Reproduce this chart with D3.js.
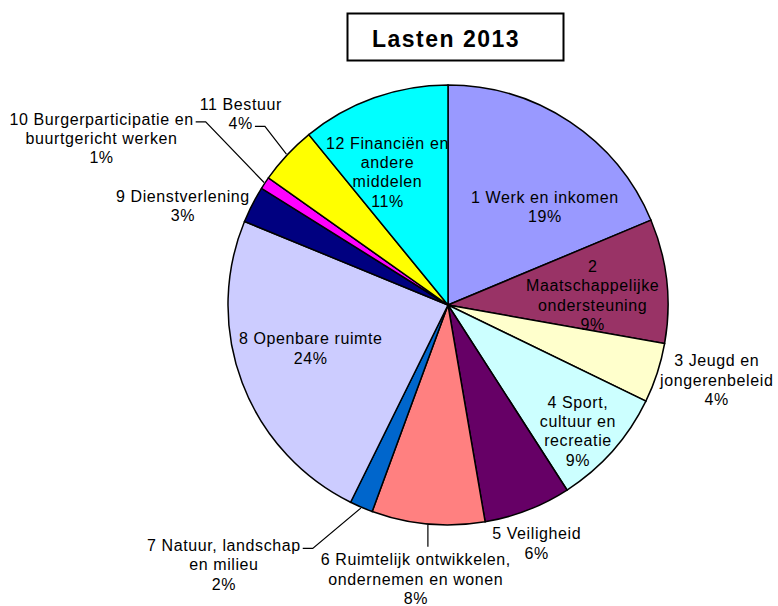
<!DOCTYPE html>
<meta charset="utf-8">
<style>
body { margin: 0; background: #fff; }
text { font-family: "Liberation Sans", Arial, sans-serif; fill: #000; }
.lbl { font-size: 16px; letter-spacing: 0.6px; }
.title { font-size: 23px; font-weight: bold; letter-spacing: 1.5px; }
.slice { stroke: #000; stroke-width: 1.5px; }
.leader { fill: none; stroke: #000; stroke-width: 1.2px; }
</style>
<body>
<script src="https://d3js.org/d3.v7.min.js"></script>
<script>

// chart size and pie geometry
var width = 778, height = 606;
var cx = 448, cy = 305, radius = 220;

// the data: share of the 2013 budget per programme (%)
var values = [18.7, 9.1, 4.4, 8.7, 6.4, 8.3, 1.7, 23.9, 2.7, 0.9, 4.3, 10.9];

// label text for each slice (percentage is added below)
var labelLines = [
  ["1 Werk en inkomen"],
  ["2", "Maatschappelijke", "ondersteuning"],
  ["3 Jeugd en", "jongerenbeleid"],
  ["4 Sport,", "cultuur en", "recreatie"],
  ["5 Veiligheid"],
  ["6 Ruimtelijk ontwikkelen,", "ondernemen en wonen"],
  ["7 Natuur, landschap", "en milieu"],
  ["8 Openbare ruimte"],
  ["9 Dienstverlening"],
  ["10 Burgerparticipatie en", "buurtgericht werken"],
  ["11 Bestuur"],
  ["12 Financiën en", "andere", "middelen"]
];

var colors = ["#9999ff", "#993366", "#ffffcc", "#ccffff", "#660066", "#ff8080",
              "#0066cc", "#ccccff", "#000080", "#ff00ff", "#ffff00", "#00ffff"];

// where each label block sits: [angle in degrees from 12 o'clock, distance from centre]
var labelPolar = [
  [44.6, 138], [86.2, 145], [105.6, 279], [134.1, 181], [159.6, 254.5], [186.7, 276],
  [220.8, 343], [252.4, 144], [290.5, 283], [295.7, 384.5], [312.7, 282], [335.5, 146]
];

// leader lines: slice index and which label line they attach to
var leaders = [
  {i: 5, line: "top"},
  {i: 6, line: 0},
  {i: 9, line: 0},
  {i: 10, line: 1}
];

var lineHeight = 19.3;
var total = d3.sum(values);
var pct = function(v) { return d3.format(".0f")(v / total * 100) + "%"; };

var svg = d3.select("body").append("svg")
    .attr("width", width)
    .attr("height", height);

// title box
svg.append("rect")
    .attr("x", 347.5).attr("y", 13.5)
    .attr("width", 216).attr("height", 47)
    .attr("fill", "#fff")
    .attr("stroke", "#000")
    .attr("stroke-width", 2);
svg.append("text")
    .attr("class", "title")
    .attr("x", 446).attr("y", 47)
    .attr("text-anchor", "middle")
    .text("Lasten 2013");

var pie = d3.pie().sort(null).value(function(d) { return d; });
var arcs = pie(values);
var arc = d3.arc().innerRadius(0).outerRadius(radius);

var g = svg.append("g")
    .attr("transform", "translate(" + cx + "," + cy + ")");

g.selectAll("path.slice")
    .data(arcs)
  .enter().append("path")
    .attr("class", "slice")
    .attr("fill", function(d, i) { return colors[i]; })
    .attr("d", arc);

function polar(angleDeg, r) {
  var a = angleDeg * Math.PI / 180;
  return [r * Math.sin(a), -r * Math.cos(a)];
}

// labels
var labelNodes = [];
arcs.forEach(function(d, i) {
  var lines = labelLines[i].concat([pct(values[i])]);
  var p = polar(labelPolar[i][0], labelPolar[i][1]);
  var n = lines.length;
  var t = g.append("text")
      .attr("class", "lbl")
      .attr("text-anchor", "middle");
  var spans = [];
  lines.forEach(function(s, k) {
    spans.push(t.append("tspan")
        .attr("x", p[0])
        .attr("y", p[1] + (k - (n - 1) / 2) * lineHeight)
        .attr("dy", "0.35em")
        .text(s));
  });
  labelNodes.push({pos: p, spans: spans, n: n});
});

// leader lines from slice edge to label
leaders.forEach(function(L) {
  var d = arcs[L.i];
  var mid = (d.startAngle + d.endAngle) / 2 * 180 / Math.PI;
  var start = polar(mid, radius + 1);
  var lab = labelNodes[L.i];
  var pts;
  if (L.line === "top") {
    var topY = lab.pos[1] - (lab.n - 1) / 2 * lineHeight - 13;
    pts = [start, [start[0], topY]];
  } else {
    var span = lab.spans[L.line];
    var w = span.node().getComputedTextLength();
    var ly = lab.pos[1] + (L.line - (lab.n - 1) / 2) * lineHeight + 3;
    var x0 = lab.pos[0] + w / 2 + 2;
    pts = [start, [x0 + 10, ly], [x0, ly]];
  }
  g.append("path")
      .attr("class", "leader")
      .attr("d", d3.line()(pts));
});

</script>
</body>
